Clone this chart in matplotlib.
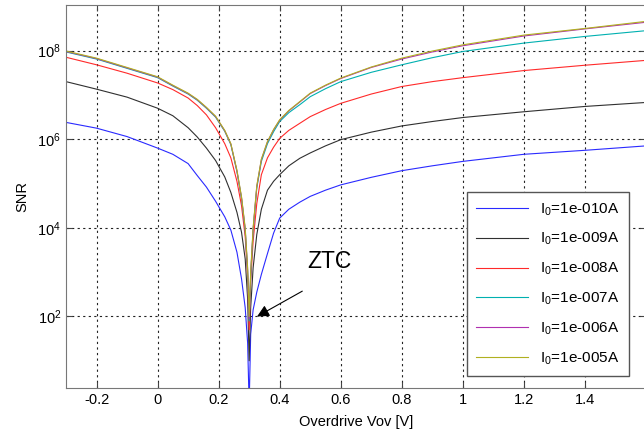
import numpy as np
import matplotlib
matplotlib.use('Agg')
from matplotlib import pyplot as plt

plt.rcParams['font.family'] = ['Liberation Sans', 'DejaVu Sans']
plt.rcParams['mathtext.fontset'] = 'custom'
plt.rcParams['mathtext.rm'] = 'Liberation Sans'
plt.rcParams['mathtext.it'] = 'Liberation Sans:italic'
plt.rcParams['mathtext.default'] = 'regular'

# overdrive voltage [V]
vov = [-0.3, -0.2, -0.1, 0.0, 0.05, 0.1, 0.13, 0.16, 0.19, 0.22, 0.24, 0.26,
       0.275, 0.287, 0.295, 0.3, 0.305, 0.313, 0.325, 0.34, 0.36, 0.38, 0.4,
       0.43, 0.466, 0.5, 0.55, 0.6, 0.7, 0.8, 0.9, 1.0, 1.2, 1.4, 1.6]

# log10(SNR), one list per bias current
snr_1e10 = [6.38, 6.25, 6.06, 5.80, 5.66, 5.45, 5.18, 4.92, 4.60, 4.25, 3.95, 3.45,
            2.85, 2.20, 1.40, 0.0, 1.60, 2.15, 2.55, 2.95, 3.42, 3.88, 4.22,
            4.42, 4.58, 4.71, 4.85, 4.97, 5.14, 5.29, 5.40, 5.50, 5.66, 5.75, 5.85]
snr_1e9 = [7.30, 7.13, 6.95, 6.70, 6.53, 6.26, 6.05, 5.80, 5.52, 5.15, 4.80, 4.35,
           3.90, 3.30, 2.40, 1.0, 2.20, 3.10, 3.85, 4.42, 4.85, 5.05, 5.20,
           5.40, 5.57, 5.69, 5.85, 5.99, 6.16, 6.30, 6.40, 6.49, 6.62, 6.74, 6.83]
snr_1e8 = [7.85, 7.68, 7.49, 7.27, 7.12, 6.93, 6.76, 6.55, 6.26, 5.90, 5.58, 5.05,
           4.50, 3.80, 2.90, 1.7, 2.80, 3.70, 4.55, 5.20, 5.58, 5.82, 6.02,
           6.20, 6.36, 6.51, 6.67, 6.81, 7.02, 7.19, 7.30, 7.39, 7.55, 7.67, 7.78]
snr_1e7 = [7.97, 7.81, 7.60, 7.39, 7.20, 7.02, 6.88, 6.70, 6.50, 6.18, 5.88, 5.27,
           4.66, 3.95, 3.00, 1.9, 2.90, 3.95, 4.90, 5.50, 5.90, 6.17, 6.40,
           6.60, 6.78, 6.96, 7.14, 7.30, 7.51, 7.68, 7.84, 7.98, 8.17, 8.32, 8.45]
snr_1e6 = [7.98, 7.82, 7.61, 7.40, 7.21, 7.03, 6.89, 6.71, 6.51, 6.19, 5.89, 5.28,
           4.68, 3.97, 3.05, 1.95, 2.95, 3.97, 4.93, 5.54, 5.94, 6.21, 6.43,
           6.64, 6.84, 7.03, 7.21, 7.37, 7.62, 7.81, 7.97, 8.11, 8.33, 8.49, 8.64]
snr_1e5 = [7.99, 7.83, 7.62, 7.41, 7.22, 7.04, 6.90, 6.72, 6.52, 6.20, 5.90, 5.30,
           4.70, 4.00, 3.10, 2.0, 3.00, 4.00, 4.95, 5.55, 5.95, 6.22, 6.44,
           6.65, 6.85, 7.04, 7.22, 7.38, 7.63, 7.83, 7.99, 8.13, 8.35, 8.50, 8.66]

labels = ['1e-010', '1e-009', '1e-008', '1e-007', '1e-006', '1e-005']
series = [snr_1e10, snr_1e9, snr_1e8, snr_1e7, snr_1e6, snr_1e5]
colors = ['#2a2aff', '#303030', '#ff2a2a', '#00b0b0', '#b030b0', '#b0b020']

yticks = [1e2, 1e4, 1e6, 1e8]
ytick_labels = ['$10^{2}$', '$10^{4}$', '$10^{6}$', '$10^{8}$']
xticks = [-0.2, 0, 0.2, 0.4, 0.6, 0.8, 1, 1.2, 1.4]

fig = plt.figure(figsize=(6.44, 4.37), dpi=100)
ax = fig.add_axes([66 / 644, 49 / 437, 580 / 644, 383 / 437])

for s, c, lab in zip(series, colors, labels):
    ax.plot(vov, 10 ** np.array(s), color=c, lw=0.8, label='$I_0$=' + lab + 'A')

ax.set_yscale('log')
ax.set_xlim(-0.3, 1.6)
ax.set_ylim(2.43, 1.07e9)
ax.set_yticks(yticks)
ax.set_yticklabels(ytick_labels)
ax.yaxis.set_minor_locator(matplotlib.ticker.NullLocator())
ax.set_xticks(xticks)
ax.set_xticklabels(['-0.2', '0', '0.2', '0.4', '0.6', '0.8', '1', '1.2', '1.4'])
ax.tick_params(direction='in', labelsize=10.5, top=True, right=True, length=4, color='#444')
ax.grid(True, color='#222', linestyle=(0, (2, 3)), lw=0.8)
for sp in ax.spines.values():
    sp.set_color('#777')

ax.set_xlabel('Overdrive Vov [V]', fontsize=10.5, labelpad=6)
ax.set_ylabel('SNR', fontsize=10.5, labelpad=6)

ax.annotate('', xy=(0.318, 93), xytext=(0.482, 400),
            arrowprops=dict(arrowstyle='-|>', color='k', lw=0.8, mutation_scale=18))
ax.text(0.489, 1700, 'ZTC', fontsize=16.5, va='center', ha='left')

leg = ax.legend(loc='upper left', bbox_to_anchor=(467 / 644, 1 - 192 / 437),
                bbox_transform=fig.transFigure, borderaxespad=0, fontsize=11,
                handlelength=3.4, labelspacing=0.88, borderpad=0.6, fancybox=False,
                framealpha=1, edgecolor='#555')
leg.get_frame().set_linewidth(1.0)

plt.savefig('out.png')
